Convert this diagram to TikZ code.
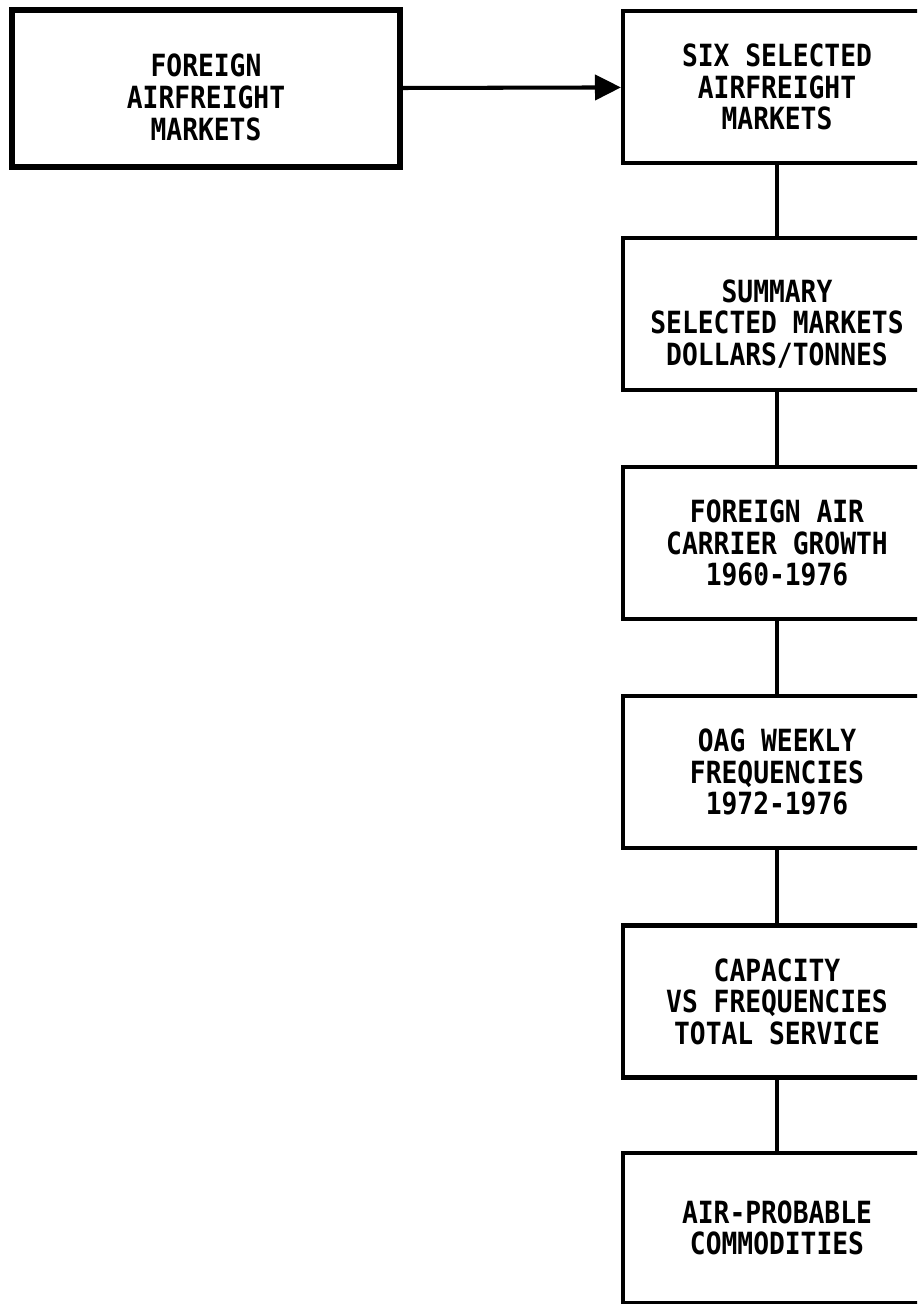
\documentclass[tikz,border=0pt]{standalone}
\usepackage{fontspec}
\setmonofont[FakeStretch=0.86]{DejaVu Sans Mono}
\usetikzlibrary{arrows.meta,positioning}

\begin{document}
\begin{tikzpicture}[font={\ttfamily\bfseries\fontsize{8.7}{9.0}\selectfont},
  box/.style={draw,line width=1.15pt,align=center,inner sep=0pt,
    minimum width=3.08cm,minimum height=1.52cm},
  link/.style={line width=1.15pt}]
\useasboundingbox (0,0) rectangle (9.17,-13.04);
\clip (0,0) rectangle (9.17,-13.04);
% input market
\node[box,line width=1.7pt,minimum width=3.88cm,minimum height=1.57cm,text height=29.5pt]
  (foreign) at (2.06,-0.885) {FOREIGN\\AIRFREIGHT\\MARKETS};
% study chain
\node[box] (six) at (7.77,-0.87) {SIX SELECTED\\AIRFREIGHT\\MARKETS};
\node[box,text height=30pt] (summary) at (7.77,-3.14) {SUMMARY\\SELECTED MARKETS\\DOLLARS/TONNES};
\node[box] (growth) at (7.77,-5.43) {FOREIGN AIR\\CARRIER GROWTH\\1960-1976};
\node[box] (oag) at (7.77,-7.72) {OAG WEEKLY\\FREQUENCIES\\1972-1976};
\node[box] (capacity) at (7.77,-10.015) {CAPACITY\\VS FREQUENCIES\\TOTAL SERVICE};
\node[box,minimum height=1.50cm] (commod) at (7.77,-12.28) {AIR-PROBABLE\\COMMODITIES};
% links
\draw[link,-{Triangle[length=0.26cm,width=0.25cm]}] (foreign) -- (six);
\draw[link] (six) -- (summary);
\draw[link] (summary) -- (growth);
\draw[link] (growth) -- (oag);
\draw[link] (oag) -- (capacity);
\draw[link] (capacity) -- (commod);
\end{tikzpicture}
\end{document}
